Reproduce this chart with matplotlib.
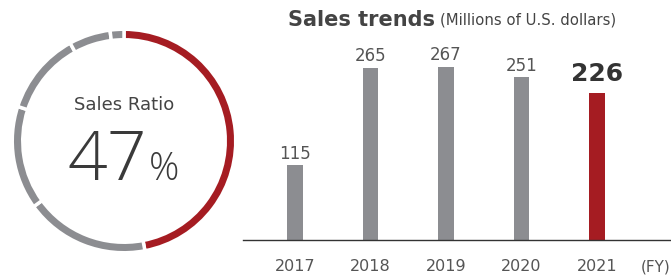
import matplotlib
matplotlib.use('Agg')
import matplotlib.pyplot as plt

# donut: share of sales (percent), first slice is the highlighted one
ratio_shares = [47, 18, 15, 12, 6, 2]
ratio_label = 'Sales Ratio'
ratio_value = '47'

# bar chart: sales trends
years = ['2017', '2018', '2019', '2020', '2021']
sales = [115, 265, 267, 251, 226]

RED = '#a51c22'
GRAY = '#8c8d91'
TXT = '#444444'

plt.rcParams['font.family'] = ['DejaVu Sans']

fig = plt.figure(figsize=(6.71, 2.76), dpi=100)

# ---- donut ----
ax_d = fig.add_axes([(124 - 115) / 671, (276 - 141 - 115) / 276, 230 / 671, 230 / 276])
colors = [RED] + [GRAY] * (len(ratio_shares) - 1)
edge_px = 3.5
ax_d.pie(ratio_shares, radius=(110 + edge_px / 2) / 110, startangle=90,
         counterclock=False, colors=colors,
         wedgeprops=dict(width=(7 + edge_px) / 110, edgecolor='white', linewidth=2.5))
lim = 115 / 110
ax_d.set_xlim(-lim, lim)
ax_d.set_ylim(-lim, lim)
ax_d.set_aspect('equal')
ax_d.axis('off')

ax_d.text(0, 0.33, ratio_label, ha='center', va='center', fontsize=13, color=TXT)
ax_d.text(0.21, -0.355, ratio_value, ha='right', va='baseline', fontsize=50,
          color='#3a3a3a', family=['Open Sans', 'DejaVu Sans'], fontweight='light')
ax_d.text(0.225, -0.355, '%', ha='left', va='baseline', fontsize=27,
          color='#3a3a3a', family=['Open Sans', 'DejaVu Sans'], fontweight='light')

# ---- bars ----
ax = fig.add_axes([243 / 671, 36 / 276, 427 / 671, 210 / 276])
x = list(range(len(years)))
bar_colors = [GRAY] * (len(years) - 1) + [RED]
bars = ax.bar(x, sales, width=0.21, color=bar_colors, zorder=2)
ax.set_xlim(-0.689, -0.689 + 427 / 75.5)
ax.set_ylim(0, 210 / 0.649)
for spine in ['top', 'right', 'left']:
    ax.spines[spine].set_visible(False)
ax.spines['bottom'].set_color('#333333')
ax.spines['bottom'].set_linewidth(1)
ax.set_yticks([])
ax.set_xticks(x)
ax.set_xticklabels(years, fontsize=11.5, color='#555555')
ax.tick_params(axis='x', length=0, pad=14)

for i, v in enumerate(sales):
    if i == len(sales) - 1:
        ax.text(i, v + 12, str(v), ha='center', va='bottom', fontsize=18,
                fontweight='bold', color='#333333')
    else:
        ax.text(i, v + 4, str(v), ha='center', va='bottom', fontsize=12,
                color='#555555')

fig.text(670 / 671, 1 - 267 / 276, '(FY)', ha='right', va='center',
         fontsize=11, color='#555555')

# title
fig.text(288 / 671, 1 - 20 / 276, 'Sales trends', ha='left', va='center',
         fontsize=15, fontweight='bold', color=TXT)
fig.text(440 / 671, 1 - 20 / 276, '(Millions of U.S. dollars)', ha='left',
         va='center', fontsize=10.7, color=TXT)

fig.savefig('out.png', dpi=100)
